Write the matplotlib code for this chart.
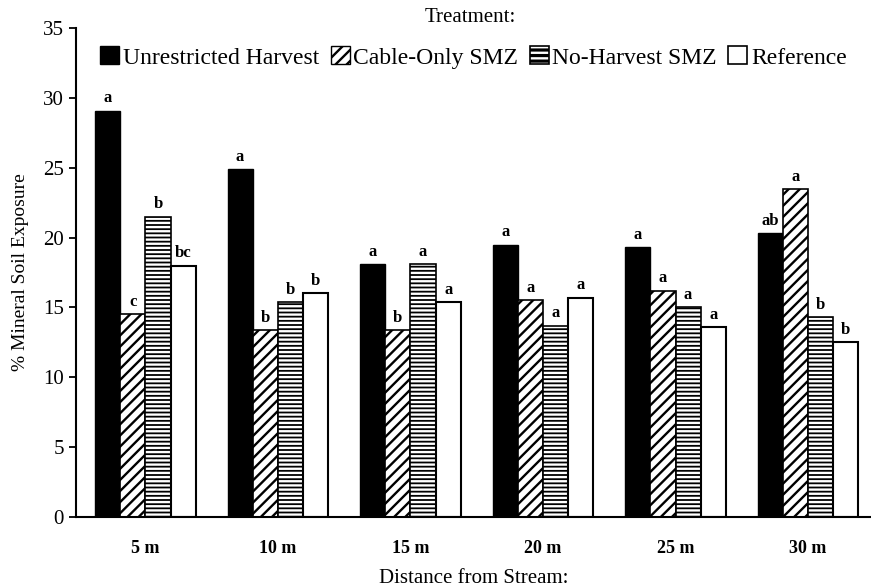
import matplotlib
matplotlib.use('Agg')
import matplotlib.pyplot as plt
from matplotlib.patches import Patch
import numpy as np

plt.rcParams['font.family'] = ['Liberation Serif', 'DejaVu Serif']
plt.rcParams['hatch.linewidth'] = 1.7

distances = ['5 m', '10 m', '15 m', '20 m', '25 m', '30 m']
treatments = ['Unrestricted Harvest', 'Cable-Only SMZ', 'No-Harvest SMZ', 'Reference']

unrestricted = [29.1, 24.9, 18.1, 19.5, 19.3, 20.3]
cable_only = [14.5, 13.4, 13.4, 15.5, 16.2, 23.5]
no_harvest = [21.5, 15.4, 18.1, 13.7, 15.0, 14.3]
reference = [18.0, 16.0, 15.4, 15.7, 13.6, 12.5]

lab_unrestricted = ['a', 'a', 'a', 'a', 'a', 'ab']
lab_cable = ['c', 'b', 'b', 'a', 'a', 'a']
lab_noharvest = ['b', 'b', 'a', 'a', 'a', 'b']
lab_reference = ['bc', 'b', 'a', 'a', 'a', 'b']

fig = plt.figure(figsize=(8.71, 5.86), dpi=100)
ax = fig.add_axes([0.087, 0.118, 0.913, 0.834])

x = np.arange(len(distances))
w = 0.19
offs = np.array([-1.5, -0.5, 0.5, 1.5]) * w

ax.bar(x + offs[0], unrestricted, w, color='black', edgecolor='black')
ax.bar(x + offs[1], cable_only, w, color='white', edgecolor='black', hatch='///', linewidth=1.2)
ax.bar(x + offs[2], no_harvest, w, color='black', edgecolor='white', hatch='----', linewidth=0)
ax.bar(x + offs[2], no_harvest, w, fill=False, edgecolor='black', linewidth=1.2)
ax.bar(x + offs[3], reference, w, color='white', edgecolor='black', linewidth=1.5)

series = [unrestricted, cable_only, no_harvest, reference]
labels = [lab_unrestricted, lab_cable, lab_noharvest, lab_reference]
for k in range(4):
    for i in range(len(distances)):
        ax.annotate(labels[k][i], (x[i] + offs[k], series[k][i]), xytext=(0, 3),
                    textcoords='offset points', ha='center', va='bottom',
                    fontsize=12, fontweight='bold')

ax.set_xlim(-0.525, 5.475)
ax.set_ylim(0, 35)
ax.set_yticks(range(0, 36, 5))
ax.set_xticks(x)
ax.set_xticklabels(distances, fontsize=13, fontweight='bold')
ax.tick_params(axis='x', length=0, pad=17)
ax.tick_params(axis='y', labelsize=15, length=5, width=1.3, direction='out')
for s in ['top', 'right']:
    ax.spines[s].set_visible(False)
ax.spines['left'].set_linewidth(1.5)
ax.spines['bottom'].set_linewidth(1.5)

ax.set_ylabel('% Mineral Soil Exposure', fontsize=14, labelpad=10)
ax.set_xlabel('Distance from Stream:', fontsize=15, labelpad=8)

handles = [
    Patch(facecolor='black', edgecolor='black'),
    Patch(facecolor='white', edgecolor='black', hatch='///'),
    (Patch(facecolor='black', edgecolor='white', hatch='---', linewidth=0),
     Patch(fill=False, edgecolor='black', linewidth=1.2)),
    Patch(facecolor='white', edgecolor='black', linewidth=1.2),
]
ax.legend(handles, treatments, loc='center', bbox_to_anchor=(0.5, 0.94), ncol=4,
          frameon=False, fontsize=17, handlelength=0.8, handleheight=0.8,
          handletextpad=0.15, columnspacing=0.5, borderpad=0)
fig.text(0.54, 0.97, 'Treatment:', ha='center', va='center', fontsize=15)

fig.savefig('out.png')
